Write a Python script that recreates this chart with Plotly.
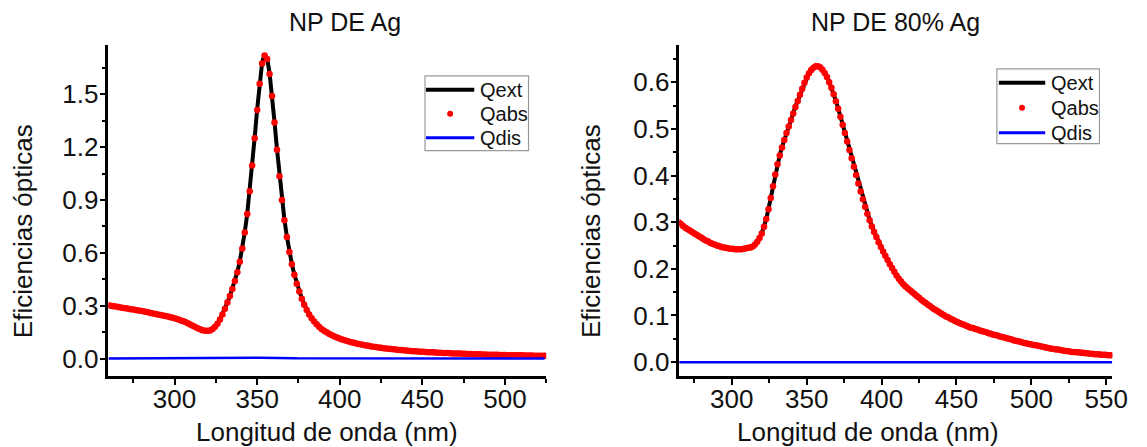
import numpy as np
import plotly.graph_objects as go

# ---------------- Ag nanoparticle (left panel) ----------------
wl_ag = np.arange(260.0, 524.01, 1.5)

qabs_ag = [
    0.302, 0.300, 0.297, 0.295, 0.292, 0.290, 0.287, 0.285, 0.283, 0.280, 0.278, 0.276,
    0.273, 0.271, 0.268, 0.265, 0.262, 0.259, 0.256, 0.253, 0.250, 0.247, 0.244, 0.241,
    0.238, 0.234, 0.231, 0.227, 0.223, 0.218, 0.213, 0.207, 0.200, 0.193, 0.186, 0.179,
    0.172, 0.166, 0.161, 0.158, 0.157, 0.159, 0.167, 0.180, 0.198, 0.222, 0.250, 0.283,
    0.318, 0.355, 0.395, 0.440, 0.490, 0.550, 0.625, 0.715, 0.820, 0.950, 1.095, 1.250,
    1.410, 1.560, 1.675, 1.720, 1.700, 1.615, 1.490, 1.340, 1.185, 1.035, 0.900, 0.785,
    0.690, 0.605, 0.535, 0.475, 0.425, 0.380, 0.340, 0.305, 0.275, 0.250, 0.228, 0.210,
    0.194, 0.180, 0.168, 0.158, 0.149, 0.141, 0.134, 0.127, 0.121, 0.115, 0.110, 0.105,
    0.101, 0.097, 0.093, 0.089, 0.086, 0.083, 0.080, 0.077, 0.074, 0.072, 0.069, 0.067,
    0.065, 0.063, 0.061, 0.059, 0.057, 0.055, 0.054, 0.052, 0.051, 0.049, 0.048, 0.047,
    0.046, 0.044, 0.043, 0.042, 0.041, 0.040, 0.039, 0.038, 0.037, 0.036, 0.036, 0.035,
    0.034, 0.033, 0.033, 0.032, 0.031, 0.031, 0.030, 0.029, 0.029, 0.028, 0.028, 0.027,
    0.027, 0.026, 0.026, 0.025, 0.025, 0.024, 0.024, 0.023, 0.023, 0.022, 0.022, 0.022,
    0.021, 0.021, 0.020, 0.020, 0.020, 0.019, 0.019, 0.019, 0.018, 0.018, 0.018, 0.018,
    0.017, 0.017, 0.017, 0.017, 0.016, 0.016, 0.016, 0.016, 0.016,
]

qdis_ag = [
    0.000, 0.000, 0.000, 0.000, 0.000, 0.000, 0.000, 0.000, 0.000, 0.000, 0.000, 0.000,
    0.000, 0.000, 0.000, 0.000, 0.000, 0.000, 0.000, 0.000, 0.000, 0.000, 0.000, 0.000,
    0.000, 0.000, 0.000, 0.000, 0.000, 0.000, 0.000, 0.000, 0.000, 0.000, 0.000, 0.000,
    0.000, 0.000, 0.000, 0.000, 0.000, 0.000, 0.000, 0.000, 0.000, 0.000, 0.000, 0.000,
    0.000, 0.000, 0.001, 0.001, 0.001, 0.001, 0.002, 0.002, 0.002, 0.003, 0.003, 0.004,
    0.004, 0.005, 0.005, 0.006, 0.006, 0.005, 0.005, 0.004, 0.004, 0.003, 0.003, 0.003,
    0.002, 0.002, 0.002, 0.002, 0.001, 0.001, 0.001, 0.001, 0.001, 0.001, 0.001, 0.001,
    0.001, 0.001, 0.001, 0.001, 0.001, 0.001, 0.001, 0.001, 0.001, 0.001, 0.000, 0.000,
    0.000, 0.000, 0.000, 0.000, 0.000, 0.000, 0.000, 0.000, 0.000, 0.000, 0.000, 0.000,
    0.000, 0.000, 0.000, 0.000, 0.000, 0.000, 0.000, 0.000, 0.000, 0.000, 0.000, 0.000,
    0.000, 0.000, 0.000, 0.000, 0.000, 0.000, 0.000, 0.000, 0.000, 0.000, 0.000, 0.000,
    0.000, 0.000, 0.000, 0.000, 0.000, 0.000, 0.000, 0.000, 0.000, 0.000, 0.000, 0.000,
    0.000, 0.000, 0.000, 0.000, 0.000, 0.000, 0.000, 0.000, 0.000, 0.000, 0.000, 0.000,
    0.000, 0.000, 0.000, 0.000, 0.000, 0.000, 0.000, 0.000, 0.000, 0.000, 0.000, 0.000,
    0.000, 0.000, 0.000, 0.000, 0.000, 0.000, 0.000, 0.000, 0.000,
]

qext_ag = [
    0.302, 0.300, 0.297, 0.295, 0.292, 0.290, 0.287, 0.285, 0.283, 0.280, 0.278, 0.276,
    0.273, 0.271, 0.268, 0.265, 0.262, 0.259, 0.256, 0.253, 0.250, 0.247, 0.244, 0.241,
    0.238, 0.234, 0.231, 0.227, 0.223, 0.218, 0.213, 0.207, 0.200, 0.193, 0.186, 0.179,
    0.172, 0.166, 0.161, 0.158, 0.157, 0.159, 0.167, 0.180, 0.198, 0.222, 0.250, 0.283,
    0.318, 0.355, 0.396, 0.441, 0.491, 0.551, 0.627, 0.717, 0.822, 0.953, 1.098, 1.254,
    1.414, 1.565, 1.680, 1.726, 1.706, 1.620, 1.495, 1.344, 1.189, 1.038, 0.903, 0.788,
    0.692, 0.607, 0.537, 0.477, 0.426, 0.381, 0.341, 0.306, 0.276, 0.251, 0.229, 0.211,
    0.195, 0.181, 0.169, 0.159, 0.150, 0.142, 0.135, 0.128, 0.122, 0.116, 0.110, 0.105,
    0.101, 0.097, 0.093, 0.089, 0.086, 0.083, 0.080, 0.077, 0.074, 0.072, 0.069, 0.067,
    0.065, 0.063, 0.061, 0.059, 0.057, 0.055, 0.054, 0.052, 0.051, 0.049, 0.048, 0.047,
    0.046, 0.044, 0.043, 0.042, 0.041, 0.040, 0.039, 0.038, 0.037, 0.036, 0.036, 0.035,
    0.034, 0.033, 0.033, 0.032, 0.031, 0.031, 0.030, 0.029, 0.029, 0.028, 0.028, 0.027,
    0.027, 0.026, 0.026, 0.025, 0.025, 0.024, 0.024, 0.023, 0.023, 0.022, 0.022, 0.022,
    0.021, 0.021, 0.020, 0.020, 0.020, 0.019, 0.019, 0.019, 0.018, 0.018, 0.018, 0.018,
    0.017, 0.017, 0.017, 0.017, 0.016, 0.016, 0.016, 0.016, 0.016,
]

# ---------------- 80 % Ag nanoparticle (right panel) ----------------
wl_80 = np.arange(264.5, 554.01, 1.5)

qabs_80 = [
    0.300, 0.296, 0.292, 0.288, 0.285, 0.282, 0.279, 0.276, 0.273, 0.270, 0.267, 0.264,
    0.261, 0.259, 0.256, 0.254, 0.252, 0.250, 0.249, 0.247, 0.246, 0.245, 0.244, 0.243,
    0.243, 0.242, 0.242, 0.242, 0.242, 0.243, 0.244, 0.245, 0.246, 0.248, 0.252, 0.258,
    0.266, 0.276, 0.290, 0.307, 0.328, 0.352, 0.377, 0.402, 0.424, 0.443, 0.460, 0.476,
    0.491, 0.505, 0.519, 0.533, 0.547, 0.560, 0.573, 0.586, 0.599, 0.610, 0.619, 0.626,
    0.631, 0.634, 0.634, 0.632, 0.627, 0.620, 0.611, 0.600, 0.588, 0.574, 0.559, 0.543,
    0.526, 0.509, 0.491, 0.473, 0.455, 0.437, 0.419, 0.401, 0.383, 0.366, 0.349, 0.333,
    0.318, 0.304, 0.291, 0.279, 0.268, 0.257, 0.247, 0.237, 0.228, 0.219, 0.210, 0.202,
    0.194, 0.186, 0.179, 0.173, 0.167, 0.162, 0.158, 0.154, 0.150, 0.146, 0.142, 0.138,
    0.134, 0.130, 0.127, 0.123, 0.120, 0.116, 0.113, 0.110, 0.107, 0.104, 0.101, 0.098,
    0.096, 0.093, 0.091, 0.088, 0.086, 0.084, 0.082, 0.080, 0.078, 0.076, 0.074, 0.073,
    0.071, 0.070, 0.068, 0.067, 0.065, 0.064, 0.062, 0.061, 0.059, 0.058, 0.057, 0.055,
    0.054, 0.053, 0.051, 0.050, 0.049, 0.047, 0.046, 0.045, 0.044, 0.042, 0.041, 0.040,
    0.039, 0.038, 0.037, 0.036, 0.035, 0.034, 0.033, 0.032, 0.031, 0.030, 0.029, 0.028,
    0.027, 0.027, 0.026, 0.025, 0.024, 0.024, 0.023, 0.022, 0.022, 0.021, 0.021, 0.020,
    0.020, 0.019, 0.019, 0.018, 0.018, 0.017, 0.017, 0.017, 0.016, 0.016, 0.016, 0.015,
    0.015, 0.015,
]

qdis_80 = [
    0.000, 0.000, 0.000, 0.000, 0.000, 0.000, 0.000, 0.000, 0.000, 0.000, 0.000, 0.000,
    0.000, 0.000, 0.000, 0.000, 0.000, 0.000, 0.000, 0.000, 0.000, 0.000, 0.000, 0.000,
    0.000, 0.000, 0.000, 0.000, 0.000, 0.000, 0.000, 0.000, 0.000, 0.000, 0.000, 0.000,
    0.000, 0.000, 0.000, 0.000, 0.001, 0.001, 0.001, 0.001, 0.001, 0.001, 0.001, 0.001,
    0.001, 0.001, 0.001, 0.001, 0.001, 0.001, 0.001, 0.001, 0.001, 0.001, 0.001, 0.001,
    0.001, 0.001, 0.001, 0.001, 0.001, 0.001, 0.001, 0.001, 0.001, 0.001, 0.001, 0.001,
    0.001, 0.001, 0.001, 0.001, 0.001, 0.001, 0.001, 0.001, 0.001, 0.001, 0.001, 0.001,
    0.001, 0.001, 0.001, 0.001, 0.001, 0.001, 0.001, 0.000, 0.000, 0.000, 0.000, 0.000,
    0.000, 0.000, 0.000, 0.000, 0.000, 0.000, 0.000, 0.000, 0.000, 0.000, 0.000, 0.000,
    0.000, 0.000, 0.000, 0.000, 0.000, 0.000, 0.000, 0.000, 0.000, 0.000, 0.000, 0.000,
    0.000, 0.000, 0.000, 0.000, 0.000, 0.000, 0.000, 0.000, 0.000, 0.000, 0.000, 0.000,
    0.000, 0.000, 0.000, 0.000, 0.000, 0.000, 0.000, 0.000, 0.000, 0.000, 0.000, 0.000,
    0.000, 0.000, 0.000, 0.000, 0.000, 0.000, 0.000, 0.000, 0.000, 0.000, 0.000, 0.000,
    0.000, 0.000, 0.000, 0.000, 0.000, 0.000, 0.000, 0.000, 0.000, 0.000, 0.000, 0.000,
    0.000, 0.000, 0.000, 0.000, 0.000, 0.000, 0.000, 0.000, 0.000, 0.000, 0.000, 0.000,
    0.000, 0.000, 0.000, 0.000, 0.000, 0.000, 0.000, 0.000, 0.000, 0.000, 0.000, 0.000,
    0.000, 0.000,
]

qext_80 = [
    0.300, 0.296, 0.292, 0.288, 0.285, 0.282, 0.279, 0.276, 0.273, 0.270, 0.267, 0.264,
    0.261, 0.259, 0.256, 0.254, 0.252, 0.250, 0.249, 0.247, 0.246, 0.245, 0.244, 0.243,
    0.243, 0.242, 0.242, 0.242, 0.242, 0.243, 0.244, 0.245, 0.246, 0.248, 0.252, 0.258,
    0.266, 0.276, 0.290, 0.307, 0.329, 0.353, 0.378, 0.403, 0.425, 0.444, 0.461, 0.477,
    0.492, 0.506, 0.520, 0.534, 0.548, 0.561, 0.574, 0.587, 0.600, 0.611, 0.620, 0.627,
    0.632, 0.635, 0.635, 0.633, 0.628, 0.621, 0.612, 0.601, 0.589, 0.575, 0.560, 0.544,
    0.527, 0.510, 0.492, 0.474, 0.456, 0.438, 0.420, 0.402, 0.384, 0.367, 0.350, 0.334,
    0.319, 0.305, 0.292, 0.280, 0.269, 0.258, 0.248, 0.237, 0.228, 0.219, 0.210, 0.202,
    0.194, 0.186, 0.179, 0.173, 0.167, 0.162, 0.158, 0.154, 0.150, 0.146, 0.142, 0.138,
    0.134, 0.130, 0.127, 0.123, 0.120, 0.116, 0.113, 0.110, 0.107, 0.104, 0.101, 0.098,
    0.096, 0.093, 0.091, 0.088, 0.086, 0.084, 0.082, 0.080, 0.078, 0.076, 0.074, 0.073,
    0.071, 0.070, 0.068, 0.067, 0.065, 0.064, 0.062, 0.061, 0.059, 0.058, 0.057, 0.055,
    0.054, 0.053, 0.051, 0.050, 0.049, 0.047, 0.046, 0.045, 0.044, 0.042, 0.041, 0.040,
    0.039, 0.038, 0.037, 0.036, 0.035, 0.034, 0.033, 0.032, 0.031, 0.030, 0.029, 0.028,
    0.027, 0.027, 0.026, 0.025, 0.024, 0.024, 0.023, 0.022, 0.022, 0.021, 0.021, 0.020,
    0.020, 0.019, 0.019, 0.018, 0.018, 0.017, 0.017, 0.017, 0.016, 0.016, 0.016, 0.015,
    0.015, 0.015,
]

panel_titles = ["NP DE Ag", "NP DE 80% Ag"]
series_names = ["Qext", "Qabs", "Qdis"]
x_title = "Longitud de onda (nm)"
y_title = "Eficiencias ópticas"

# ---------------- figure ----------------
W, H = 1147, 447
FONT = "Arial, Liberation Sans, sans-serif"
TXT = "#111111"
C_EXT, C_ABS, C_DIS = "black", "#ff0000", "#0000ff"


def px_x(p):
    return p / W


def px_y(p):
    return 1 - p / H


fig = go.Figure()

series = [
    (wl_ag, qext_ag, qabs_ag, qdis_ag, "x", "y"),
    (wl_80, qext_80, qabs_80, qdis_80, "x2", "y2"),
]
for wl, qe, qa, qd, xa, ya in series:
    fig.add_trace(go.Scatter(x=wl, y=qe, name=series_names[0], mode="lines",
                             line=dict(color=C_EXT, width=4),
                             xaxis=xa, yaxis=ya, showlegend=False))
    fig.add_trace(go.Scatter(x=wl, y=qa, name=series_names[1], mode="markers",
                             marker=dict(color=C_ABS, size=6.5, line=dict(width=0)),
                             xaxis=xa, yaxis=ya, showlegend=False))
    fig.add_trace(go.Scatter(x=wl, y=qd, name=series_names[2], mode="lines",
                             line=dict(color=C_DIS, width=2.5),
                             xaxis=xa, yaxis=ya, showlegend=False))

axis_common = dict(
    showline=True, linewidth=2.5, linecolor="black", mirror=False,
    showgrid=False, zeroline=False,
    ticks="outside", ticklen=6, tickwidth=2, tickcolor="black",
    tickfont=dict(family=FONT, size=26, color=TXT),
)


def minor(d, t0):
    return dict(dtick=d, tick0=t0, ticks="outside", ticklen=4,
                tickwidth=2, tickcolor="black")


y_dom = [px_y(377), px_y(45)]

fig.update_layout(
    width=W, height=H,
    margin=dict(l=0, r=0, t=0, b=0),
    paper_bgcolor="white", plot_bgcolor="white",
    font=dict(family=FONT, color=TXT),
    showlegend=False,
    xaxis=dict(axis_common, domain=[px_x(110), px_x(554)], range=[260, 525],
               tick0=300, dtick=50, anchor="y", minor=minor(25, 275),
               ticklabelstandoff=-8),
    yaxis=dict(axis_common, domain=y_dom, range=[-0.1, 1.78],
               tick0=0, dtick=0.3, tickformat=".1f", anchor="x",
               minor=minor(0.15, 0), ticklabelstandoff=-4),
    xaxis2=dict(axis_common, domain=[px_x(689), px_x(1128)], range=[265, 554],
                tick0=300, dtick=50, anchor="y2", minor=minor(25, 275),
                ticklabelstandoff=-8),
    yaxis2=dict(axis_common, domain=y_dom, range=[-0.03, 0.68],
                tick0=0, dtick=0.1, tickformat=".1f", anchor="x2",
                minor=minor(0.05, 0), ticklabelstandoff=-4),
)

# titles and axis labels
annos = [
    (350, 22, panel_titles[0], 0, 25),
    (908, 22, panel_titles[1], 0, 25),
    (332, 433, x_title, 0, 26),
    (880, 433, x_title, 0, 26),
    (24, 232, y_title, -90, 26),
    (600, 232, y_title, -90, 26),
]
for x, y, text, ang, fs in annos:
    fig.add_annotation(x=px_x(x), y=px_y(y), xref="paper", yref="paper",
                       text=text, showarrow=False, textangle=ang,
                       xanchor="center", yanchor="middle",
                       font=dict(family=FONT, size=fs, color=TXT))

# boxed legends (one per panel): box, sample marks and labels
legend_boxes = [
    dict(box=(431, 76, 536, 151), line_x=(432, 481), rows=(90, 114, 138), text_x=485),
    dict(box=(1011, 69, 1115, 144), line_x=(1013, 1060), rows=(83, 108, 133), text_x=1064),
]
for lb in legend_boxes:
    bx0, by0, bx1, by1 = lb["box"]
    fig.add_shape(type="rect", xref="paper", yref="paper",
                  x0=px_x(bx0), x1=px_x(bx1), y0=px_y(by1), y1=px_y(by0),
                  line=dict(color="#9a9a9a", width=1.2), fillcolor="white", layer="above")
    lx0, lx1 = lb["line_x"]
    r_ext, r_abs, r_dis = lb["rows"]
    fig.add_shape(type="line", xref="paper", yref="paper",
                  x0=px_x(lx0), x1=px_x(lx1), y0=px_y(r_ext), y1=px_y(r_ext),
                  line=dict(color=C_EXT, width=4), layer="above")
    cx = (lx0 + lx1) / 2
    fig.add_shape(type="circle", xref="paper", yref="paper",
                  x0=px_x(cx - 3), x1=px_x(cx + 3), y0=px_y(r_abs + 3), y1=px_y(r_abs - 3),
                  line=dict(width=0), fillcolor=C_ABS, layer="above")
    fig.add_shape(type="line", xref="paper", yref="paper",
                  x0=px_x(lx0), x1=px_x(lx1), y0=px_y(r_dis), y1=px_y(r_dis),
                  line=dict(color=C_DIS, width=3), layer="above")
    for row, name in zip(lb["rows"], series_names):
        fig.add_annotation(x=px_x(lb["text_x"]), y=px_y(row), xref="paper", yref="paper",
                           text=name, showarrow=False, xanchor="left", yanchor="middle",
                           font=dict(family=FONT, size=20, color=TXT))

fig.write_html("out.html")
